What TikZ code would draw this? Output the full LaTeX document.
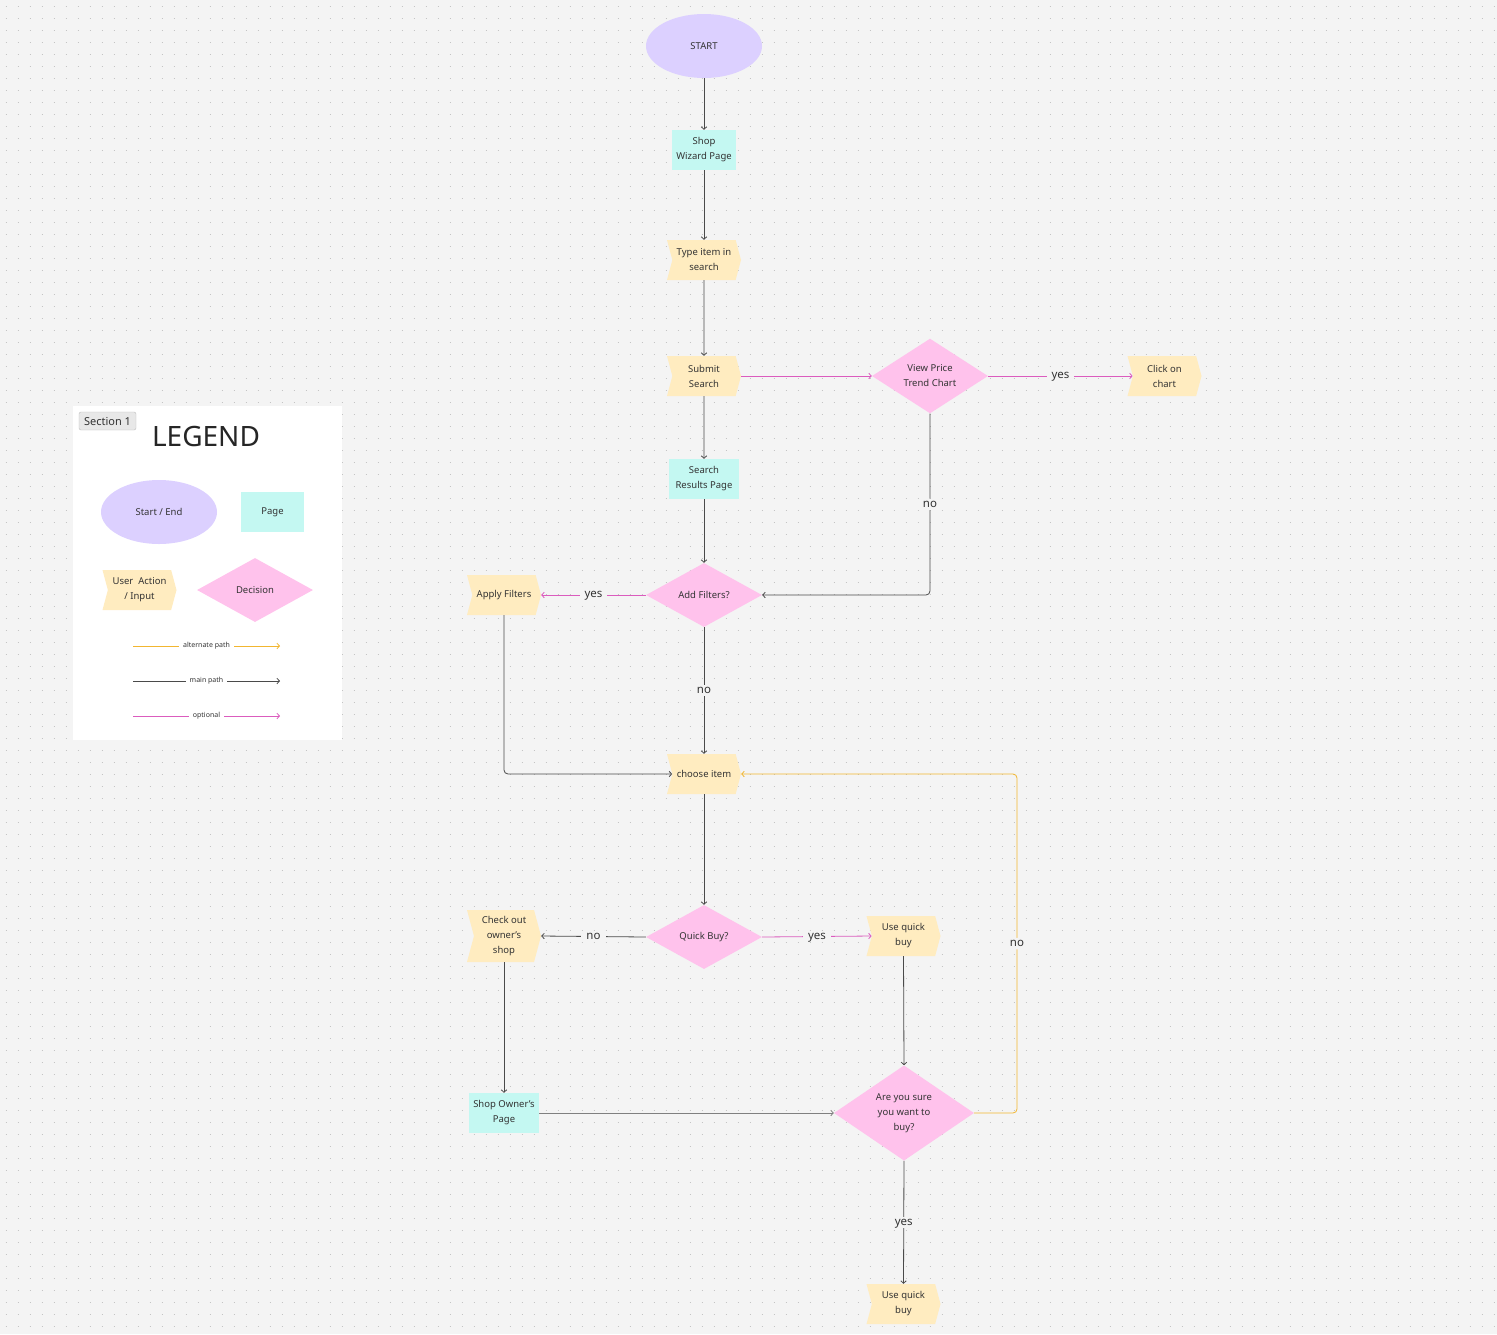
\documentclass[tikz,border=0pt]{standalone}
\usepackage{fontspec}
\setmainfont{Noto Sans}
\usetikzlibrary{shapes.geometric,shapes.symbols,arrows.meta}
\definecolor{bg}{HTML}{F4F4F4}
\definecolor{dotc}{HTML}{C4C4C4}
\definecolor{lav}{HTML}{DCD0FF}
\definecolor{cyanpage}{HTML}{C4F8F2}
\definecolor{yelact}{HTML}{FFECC0}
\definecolor{pinkdec}{HTML}{FFC2EC}
\definecolor{txt}{HTML}{333333}
\definecolor{mainc}{HTML}{4A4A4A}
\definecolor{optc}{HTML}{DB5CBE}
\definecolor{altc}{HTML}{F2B630}
\tikzset{
  startend/.style={ellipse, fill=lav, minimum width=116pt, minimum height=64pt, inner sep=0pt, text=txt, font=\fontsize{9.5}{14}\selectfont},
  pagebox/.style={rectangle, fill=cyanpage, minimum height=40pt, inner sep=0pt, align=center, text=txt, font=\fontsize{9.5}{15}\selectfont},
  action/.style={signal, signal to=east, signal from=west, signal pointer angle=150, fill=yelact, minimum width=74pt, minimum height=40pt, inner sep=0pt, align=center, text=txt, font=\fontsize{9.5}{15}\selectfont},
  decision/.style={diamond, fill=pinkdec, minimum width=116pt, minimum height=64pt, inner sep=0pt, align=center, text=txt, font=\fontsize{9.5}{15}\selectfont},
  tip/.style={-{Straight Barb[length=2.5pt,width=5.5pt]}},
  mainp/.style={draw=mainc, line width=0.8pt, tip},
  optp/.style={draw=optc, line width=0.8pt, tip},
  altp/.style={draw=altc, line width=0.8pt, tip},
  lbl/.style={fill=bg, inner xsep=5pt, inner ysep=3pt, text height=5.5pt, text depth=0pt, text=txt, font=\fontsize{11.5}{13}\selectfont},
  lgl/.style={fill=white, inner xsep=4pt, inner ysep=2pt, text=txt, font=\fontsize{7}{8}\selectfont},
}
\begin{document}
\begin{tikzpicture}[x=1pt,y=-1pt]
\useasboundingbox (0,0) rectangle (1497,1334);
\fill[bg] (0,0) rectangle (1497,1334);
% dot grid
\foreach \yy in {6,18,...,1330}{
  \draw[dotc, line width=1pt, dash pattern=on 1pt off 11pt] (5.5,\yy) -- (1497,\yy);
}
% legend panel
\fill[white] (73,406) rectangle (342,740);
\node[draw=black!25, fill=black!9, rounded corners=2pt, minimum width=57pt, minimum height=18pt, inner sep=0pt, text=txt, font=\fontsize{11}{13}\selectfont] (sec) at (107.5,421) {Section 1};
\node[text=black!85, font=\fontsize{28}{30}\selectfont] (legend) at (206,436) {LEGEND};
\node[startend] (lgse) at (159,512) {Start / End};
\node[pagebox, minimum width=63pt] (lgpage) at (272.5,512) {Page};
\node[action] (lgact) at (139.5,590) {User\ \ Action\\/ Input};
\node[decision] (lgdec) at (255,590) {Decision};
\coordinate (la1) at (133,646); \coordinate (lb1) at (280,646);
\coordinate (la2) at (133,681); \coordinate (lb2) at (280,681);
\coordinate (la3) at (133,716); \coordinate (lb3) at (280,716);
\draw[altp] (la1) -- node[lgl]{alternate path} (lb1);
\draw[mainp] (la2) -- node[lgl]{main path} (lb2);
\draw[optp] (la3) -- node[lgl]{optional} (lb3);

% flowchart nodes
\node[startend] (start) at (704,46) {START};
\node[pagebox, minimum width=64pt] (swp) at (704,150) {Shop\\Wizard Page};
\node[action] (type) at (704,260) {Type item in\\search};
\node[action] (submit) at (704,376) {Submit\\Search};
\node[decision] (vp) at (930,376) {View Price\\Trend Chart};
\node[action] (click) at (1164.5,376) {Click on\\chart};
\node[pagebox, minimum width=70pt] (srp) at (704,479) {Search\\Results Page};
\node[decision] (af) at (704,595) {Add Filters?};
\node[action] (apf) at (504,595) {Apply Filters};
\node[action] (ci) at (704,774) {choose item};
\node[decision] (qb) at (704,937) {Quick Buy?};
\node[action, minimum height=52pt] (co) at (504,936) {Check out\\owner’s\\shop};
\node[action] (uqb) at (903.5,936) {Use quick\\buy};
\node[pagebox, minimum width=70pt] (sop) at (504,1113) {Shop Owner’s\\Page};
\node[decision, minimum width=140pt, minimum height=94pt] (ays) at (904,1113) {Are you sure\\you want to\\buy?};
\node[action] (uqb2) at (903.5,1304) {Use quick\\buy};

% connectors
\draw[mainp] (start) -- (swp);
\draw[mainp] (swp) -- (type);
\draw[mainp] (type) -- (submit);
\draw[mainp] (submit) -- (srp);
\draw[optp] (submit.east) -- (vp.west);
\draw[optp] (vp.east) -- node[lbl]{yes} (click.west);
\draw[mainp] (srp) -- (af);
\draw[mainp, rounded corners=4pt] (vp.south) |- node[lbl, pos=0.25]{no} (af.east);
\draw[optp] (af.west) -- node[lbl]{yes} (apf.east);
\draw[mainp] (af.south) -- node[lbl]{no} (ci.north);
\draw[mainp, rounded corners=4pt] (apf.south) |- (ci.west);
\draw[mainp] (ci.south) -- (qb.north);
\draw[mainp] (qb.west) -- node[lbl]{no} (co.east);
\draw[optp] (qb.east) -- node[lbl]{yes} (uqb.west);
\draw[mainp] (co.south) -- (sop.north);
\draw[mainp, draw=black!50] (sop.east) -- (ays.west);
\draw[mainp] (uqb.south) -- (ays.north);
\coordinate (nr) at (1017,1113);
\draw[altp, rounded corners=4pt] (ays.east) -- (nr) |- node[lbl, pos=0.25]{no} (ci.east);
\draw[mainp] (ays.south) -- node[lbl]{yes} (uqb2.north);
\end{tikzpicture}
\end{document}
